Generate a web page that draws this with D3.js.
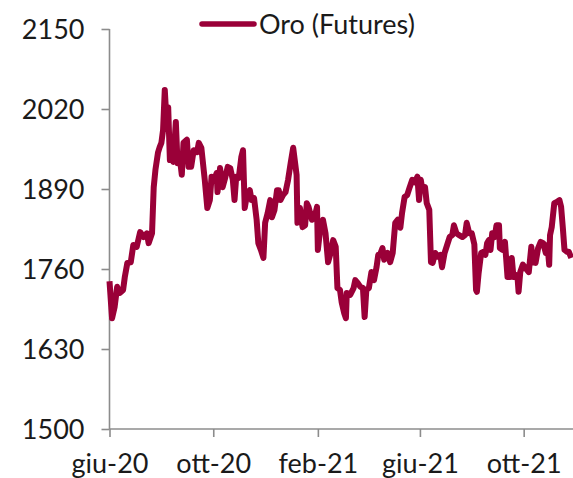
<!DOCTYPE html>
<html>
<head>
<meta charset="utf-8">
<script src="https://cdn.jsdelivr.net/npm/d3@7"></script>
<style>
  body { margin: 0; background: #fff; }
  svg { display: block; font-family: Lato, "Open Sans", sans-serif; }
</style>
</head>
<body>
<div id="chart"></div>
<script>
// Oro (Futures)
const dates = [
  "2020-06-01","2020-06-04","2020-06-07","2020-06-10","2020-06-13","2020-06-17","2020-06-19","2020-06-22",
  "2020-06-26","2020-06-29","2020-07-03","2020-07-07","2020-07-11","2020-07-15","2020-07-17","2020-07-21",
  "2020-07-23","2020-07-25","2020-07-28","2020-07-30","2020-08-01","2020-08-03","2020-08-05","2020-08-07",
  "2020-08-09","2020-08-11","2020-08-13","2020-08-15","2020-08-18","2020-08-20","2020-08-23","2020-08-25",
  "2020-08-27","2020-08-31","2020-09-02","2020-09-05","2020-09-08","2020-09-12","2020-09-14","2020-09-17",
  "2020-09-21","2020-09-24","2020-09-27","2020-09-29","2020-10-02","2020-10-05","2020-10-06","2020-10-09",
  "2020-10-12","2020-10-15","2020-10-18","2020-10-21","2020-10-24","2020-10-26","2020-10-28","2020-10-31",
  "2020-11-03","2020-11-05","2020-11-07","2020-11-10","2020-11-13","2020-11-15","2020-11-18","2020-11-21",
  "2020-11-23","2020-11-26","2020-11-29","2020-12-01","2020-12-04","2020-12-07","2020-12-09","2020-12-12",
  "2020-12-15","2020-12-17","2020-12-19","2020-12-22","2020-12-25","2020-12-28","2020-12-31","2021-01-03",
  "2021-01-07","2021-01-08","2021-01-11","2021-01-14","2021-01-17","2021-01-19","2021-01-21","2021-01-25",
  "2021-01-28","2021-01-31","2021-02-01","2021-02-04","2021-02-07","2021-02-10","2021-02-13","2021-02-16",
  "2021-02-19","2021-02-22","2021-02-24","2021-02-27","2021-03-01","2021-03-04","2021-03-06","2021-03-07",
  "2021-03-11","2021-03-15","2021-03-17","2021-03-20","2021-03-23","2021-03-26","2021-03-28","2021-03-30",
  "2021-04-02","2021-04-05","2021-04-08","2021-04-11","2021-04-13","2021-04-15","2021-04-18","2021-04-20",
  "2021-04-24","2021-04-27","2021-04-30","2021-05-03","2021-05-06","2021-05-09","2021-05-11","2021-05-14",
  "2021-05-17","2021-05-20","2021-05-23","2021-05-26","2021-05-29","2021-05-31","2021-06-02","2021-06-04",
  "2021-06-07","2021-06-09","2021-06-12","2021-06-14","2021-06-16","2021-06-19","2021-06-22","2021-06-25",
  "2021-06-27","2021-06-30","2021-07-03","2021-07-06","2021-07-09","2021-07-11","2021-07-14","2021-07-17",
  "2021-07-21","2021-07-24","2021-07-26","2021-07-29","2021-08-01","2021-08-04","2021-08-06","2021-08-07",
  "2021-08-09","2021-08-12","2021-08-15","2021-08-17","2021-08-19","2021-08-21","2021-08-23","2021-08-25",
  "2021-08-28","2021-08-30","2021-09-02","2021-09-03","2021-09-06","2021-09-09","2021-09-12","2021-09-15",
  "2021-09-17","2021-09-19","2021-09-22","2021-09-24","2021-09-25","2021-09-27","2021-09-30","2021-10-03",
  "2021-10-07","2021-10-10","2021-10-12","2021-10-15","2021-10-18","2021-10-21","2021-10-24","2021-10-27",
  "2021-10-29","2021-10-31","2021-11-01","2021-11-03","2021-11-06","2021-11-09","2021-11-12","2021-11-14",
  "2021-11-16","2021-11-18","2021-11-21","2021-11-23","2021-11-26"
];
const prices = [
  1740,1680,1698,1731,1721,1726,1747,1770,
  1771,1799,1796,1820,1812,1818,1802,1818,
  1893,1921,1949,1958,1965,1986,2051,2002,
  2023,1937,1958,1934,1999,1932,1937,1913,
  1965,1970,1926,1926,1953,1950,1965,1957,
  1905,1859,1872,1910,1905,1916,1885,1924,
  1893,1908,1926,1924,1905,1872,1910,1908,
  1942,1953,1859,1883,1888,1872,1875,1840,
  1802,1791,1778,1835,1851,1872,1844,1856,
  1888,1888,1872,1880,1885,1905,1932,1957,
  1913,1835,1859,1828,1831,1867,1861,1840,
  1843,1861,1791,1828,1840,1818,1771,1786,
  1807,1796,1729,1726,1706,1688,1680,1721,
  1718,1729,1742,1737,1731,1729,1682,1726,
  1729,1755,1742,1763,1783,1783,1794,1775,
  1786,1771,1786,1835,1840,1827,1851,1877,
  1880,1893,1905,1901,1910,1872,1905,1888,
  1893,1867,1856,1771,1770,1786,1780,1783,
  1763,1786,1799,1812,1815,1831,1818,1815,
  1812,1815,1835,1818,1818,1800,1726,1723,
  1753,1786,1788,1783,1802,1807,1791,1818,
  1812,1831,1831,1794,1791,1804,1747,1747,
  1778,1747,1750,1742,1723,1755,1767,1762,
  1755,1796,1771,1770,1794,1804,1802,1786,
  1799,1767,1815,1828,1867,1869,1872,1861,
  1828,1791,1788,1788,1778
];
const yTicks = [1500, 1630, 1760, 1890, 2020, 2150];
const xTickDates = ["2020-06-01", "2020-10-01", "2021-02-01", "2021-06-01", "2021-10-01"];
const xTickLabels = ["giu-20", "ott-20", "feb-21", "giu-21", "ott-21"];
const seriesName = "Oro (Futures)";

const width = 573, height = 478;
const plotLeft = 109.5, plotRight = 573, plotTop = 29, plotBottom = 429;
const lineColor = "#9a0038";
const axisColor = "#8c8c8c";
const fontFamily = "Lato, 'Open Sans', sans-serif";
const parse = d3.timeParse("%Y-%m-%d");

const data = dates.map((d, i) => ({ date: parse(d), value: prices[i] }));

const svg = d3.select("#chart").append("svg")
  .attr("width", width)
  .attr("height", height);

const x = d3.scaleTime()
  .domain([parse("2020-06-01"), parse("2021-11-28")])
  .range([plotLeft, plotRight]);

const y = d3.scaleLinear()
  .domain([1500, 2150])
  .range([plotBottom, plotTop]);

// Y axis
const yAxis = svg.append("g")
  .attr("transform", "translate(" + plotLeft + ",0)")
  .call(d3.axisLeft(y).tickValues(yTicks).tickFormat(d3.format("d"))
    .tickSize(8).tickPadding(17));
yAxis.select(".domain").attr("d", "M0," + plotTop + "V" + plotBottom);

// X axis
const xAxis = svg.append("g")
  .attr("transform", "translate(0," + plotBottom + ")")
  .call(d3.axisBottom(x)
    .tickValues(xTickDates.map(parse))
    .tickFormat((d, i) => xTickLabels[i])
    .tickSize(8).tickPadding(17));
xAxis.select(".domain").attr("d", "M" + plotLeft + ",0H" + plotRight);

svg.selectAll(".domain, .tick line")
  .attr("stroke", axisColor)
  .attr("stroke-width", 1.6);
[xAxis, yAxis].forEach(g => g.attr("font-family", fontFamily).attr("font-size", 27));
svg.selectAll(".tick text").attr("fill", "#1a1a1a");
yAxis.selectAll(".tick text").attr("dy", "0.36em");

// line
svg.append("path")
  .datum(data)
  .attr("fill", "none")
  .attr("stroke", lineColor)
  .attr("stroke-width", 6)
  .attr("stroke-linejoin", "round")
  .attr("d", d3.line().x(d => x(d.date)).y(d => y(d.value)));

// legend
const legend = svg.append("g");
legend.append("line")
  .attr("x1", 202).attr("x2", 254)
  .attr("y1", 24).attr("y2", 24)
  .attr("stroke", lineColor)
  .attr("stroke-width", 5.5)
  .attr("stroke-linecap", "round");
legend.append("text")
  .attr("x", 259).attr("y", 24)
  .attr("dy", "0.36em")
  .attr("fill", "#1a1a1a")
  .style("font-family", fontFamily)
  .style("font-size", "27px")
  .text(seriesName);
</script>
</body>
</html>
